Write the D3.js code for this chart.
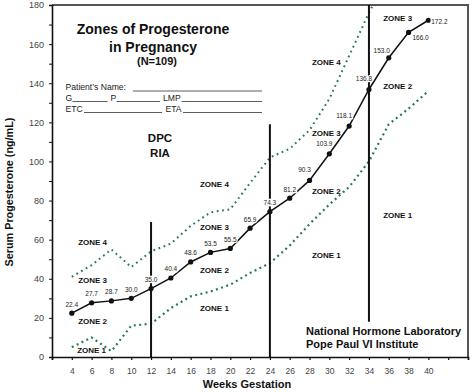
<!DOCTYPE html>
<html>
<head>
<meta charset="utf-8">
<script src="https://cdn.jsdelivr.net/npm/d3@7"></script>
<style>
  body { margin: 0; background: #fff; }
  svg { font-family: Arial, "Liberation Sans", sans-serif; display: block; }
</style>
</head>
<body>
<div id="chart"></div>
<script>
// mean progesterone by week
var weeks = [4, 6, 8, 10, 12, 14, 16, 18, 20, 22, 24, 26, 28, 30, 32, 34, 36, 38, 40];
var meanValues = [22.4, 27.7, 28.7, 30.0, 35.0, 40.4, 48.6, 53.5, 55.5, 65.9, 74.3, 81.2, 90.3, 103.9, 118.1, 136.8, 153.0, 166.0, 172.2];

// zone boundaries (green dotted)
var upperWeeks = [4, 6, 8, 10, 12, 14, 16, 18, 20, 22, 24, 26, 28, 30, 32, 34, 36];
var upperValues = [41, 47, 55, 46, 54, 58, 67, 74, 75.5, 89, 102, 106.5, 116, 132, 154, 176, 196];
var lowerWeeks = [4, 6, 8, 10, 12, 14, 16, 18, 20, 22, 24, 26, 28, 30, 32, 34, 36, 38, 40];
var lowerValues = [5, 10, 3, 16, 17, 25, 31, 33.5, 37, 43, 48, 57, 68, 78, 87, 100, 119, 127, 136];

// trimester markers
var markerWeeks = [12, 24, 34];
var markerFrom = [0, 0, 18];
var markerTo = [69, 119, 180];

var zoneNames = ["ZONE 4", "ZONE 3", "ZONE 2", "ZONE 1",
                 "ZONE 4", "ZONE 3", "ZONE 2", "ZONE 1",
                 "ZONE 4", "ZONE 3", "ZONE 2", "ZONE 1",
                 "ZONE 3", "ZONE 2", "ZONE 1"];
var zoneWeeks = [6.1, 6.1, 6.1, 6.0, 18.4, 18.4, 18.4, 18.4, 29.7, 29.7, 29.7, 29.7, 36.9, 36.9, 36.9];
var zoneValues = [58.6, 39.4, 18.4, 3.6, 88.3, 66.6, 44.5, 25.2, 150.7, 114.4, 84.9, 52.2, 173.2, 138.6, 72.6];

var yTicks = d3.range(0, 181, 10);
var xTicks = d3.range(2, 45, 2);

var W = 474, H = 392;
var margin = { top: 5, right: 6, bottom: 35, left: 52 };
var width = W - margin.left - margin.right,
    height = H - margin.top - margin.bottom;

var svg = d3.select("#chart").append("svg")
  .attr("width", W)
  .attr("height", H);

var g = svg.append("g")
  .attr("transform", "translate(" + margin.left + "," + margin.top + ")");

var x = d3.scaleLinear().domain([2, 44]).range([0, width]);
var y = d3.scaleLinear().domain([0, 180]).range([height, 0]);

g.append("clipPath").attr("id", "plotclip")
  .append("rect").attr("width", width).attr("height", height);

// frame top/right
g.append("path")
  .attr("d", "M0,0H" + width + "V" + height)
  .attr("fill", "none")
  .attr("stroke", "#555")
  .attr("stroke-width", 2);

// axes
var xAxis = d3.axisBottom(x)
  .tickValues(xTicks)
  .tickSize(3)
  .tickFormat(function(d) { return (d >= 4 && d <= 40) ? d : ""; });
var yAxis = d3.axisLeft(y)
  .tickValues(yTicks)
  .tickSize(3)
  .tickFormat(function(d) { return d % 20 === 0 ? d : ""; });

var gx = g.append("g")
  .attr("transform", "translate(0," + height + ")")
  .call(xAxis);
gx.select(".domain").attr("stroke", "#111").attr("stroke-width", 1.6);
gx.selectAll(".tick line").attr("stroke", "#111").attr("stroke-width", 1.2);
gx.selectAll(".tick text").attr("font-size", "8.5px").attr("fill", "#444").attr("dy", "1.25em");

var gy = g.append("g").call(yAxis);
gy.select(".domain").attr("stroke", "#111").attr("stroke-width", 1.6);
gy.selectAll(".tick line").attr("stroke", "#111").attr("stroke-width", 1);
gy.selectAll(".tick text").attr("font-size", "9px").attr("fill", "#444").attr("x", -8);

// axis titles
svg.append("text")
  .attr("x", 247).attr("y", 388)
  .attr("text-anchor", "middle")
  .attr("font-size", "11px").attr("font-weight", "bold").attr("fill", "#111")
  .text("Weeks Gestation");

svg.append("text")
  .attr("transform", "translate(13,192) rotate(-90)")
  .attr("text-anchor", "middle")
  .attr("font-size", "10.8px").attr("font-weight", "bold").attr("fill", "#111")
  .text("Serum Progesterone (ng/mL)");

// green zone boundaries
var plot = g.append("g").attr("clip-path", "url(#plotclip)");
var line = d3.line()
  .x(function(d) { return x(d[0]); })
  .y(function(d) { return y(d[1]); });

plot.append("path")
  .datum(d3.zip(upperWeeks, upperValues))
  .attr("d", line)
  .attr("fill", "none")
  .attr("stroke", "#2b7a55")
  .attr("stroke-width", 2)
  .attr("stroke-dasharray", "1.8,3.6");

plot.append("path")
  .datum(d3.zip(lowerWeeks, lowerValues))
  .attr("d", line)
  .attr("fill", "none")
  .attr("stroke", "#2b7a55")
  .attr("stroke-width", 2.2)
  .attr("stroke-dasharray", "2,3.4");

// vertical markers
plot.selectAll(".marker")
  .data(d3.range(markerWeeks.length))
  .enter().append("line")
  .attr("x1", function(i) { return x(markerWeeks[i]); })
  .attr("x2", function(i) { return x(markerWeeks[i]); })
  .attr("y1", function(i) { return y(markerFrom[i]); })
  .attr("y2", function(i) { return y(markerTo[i]); })
  .attr("stroke", "#111")
  .attr("stroke-width", 2);

// mean line
var meanData = d3.zip(weeks, meanValues);
g.append("path")
  .datum(meanData)
  .attr("d", line)
  .attr("fill", "none")
  .attr("stroke", "#111")
  .attr("stroke-width", 1.5);

g.selectAll(".pt")
  .data(meanData)
  .enter().append("circle")
  .attr("cx", function(d) { return x(d[0]); })
  .attr("cy", function(d) { return y(d[1]); })
  .attr("r", 2.6)
  .attr("fill", "#111");

// value labels - late weeks shifted to avoid the line
function labelOffset(w) {
  if (w <= 26) return [0, -6.5];
  if (w <= 34) return [-5, -8];
  if (w === 36) return [-7, -5];
  if (w === 38) return [12, 7.5];
  return [11, 4];
}
g.selectAll(".vlab")
  .data(meanData)
  .enter().append("text")
  .attr("x", function(d) { return x(d[0]) + labelOffset(d[0])[0]; })
  .attr("y", function(d) { return y(d[1]) + labelOffset(d[0])[1]; })
  .attr("text-anchor", "middle")
  .attr("font-size", "6.5px")
  .attr("fill", "#222")
  .attr("stroke", "#fff")
  .attr("stroke-width", 2.5)
  .attr("paint-order", "stroke")
  .text(function(d) { return d[1].toFixed(1); });

// zone labels
g.selectAll(".zone")
  .data(d3.range(zoneNames.length))
  .enter().append("text")
  .attr("x", function(i) { return x(zoneWeeks[i]); })
  .attr("y", function(i) { return y(zoneValues[i]); })
  .attr("dy", "0.35em")
  .attr("text-anchor", "middle")
  .attr("font-size", "8px")
  .attr("font-weight", "bold")
  .attr("fill", "#111")
  .text(function(i) { return zoneNames[i]; });

// title block
var title = svg.append("g").attr("fill", "#111").attr("font-weight", "bold").attr("text-anchor", "middle");
title.append("text").attr("x", 153).attr("y", 34).attr("font-size", "14px").text("Zones of Progesterone");
title.append("text").attr("x", 153).attr("y", 51.5).attr("font-size", "14px").text("in Pregnancy");
title.append("text").attr("x", 157).attr("y", 65).attr("font-size", "11px").text("(N=109)");
title.append("text").attr("x", 160).attr("y", 141.5).attr("font-size", "11.5px").text("DPC");
title.append("text").attr("x", 160).attr("y", 156.5).attr("font-size", "11.5px").text("RIA");

// patient form
var form = svg.append("g").attr("font-size", "8.6px").attr("fill", "#222");
form.append("text").attr("x", 65.5).attr("y", 90).text("Patient\u2019s Name:");
form.append("text").attr("x", 65.5).attr("y", 101).text("G");
form.append("text").attr("x", 110.5).attr("y", 101).text("P");
form.append("text").attr("x", 163).attr("y", 101).text("LMP");
form.append("text").attr("x", 65.5).attr("y", 111.5).text("ETC");
form.append("text").attr("x", 165.5).attr("y", 111.5).text("ETA");
var blanks = [[133, 262, 91], [72.5, 107.5, 101.5], [116.5, 160, 101.5], [181.5, 262, 101.5], [84, 162, 112.5], [183, 262, 112.5]];
form.selectAll("line")
  .data(blanks)
  .enter().append("line")
  .attr("x1", function(d) { return d[0]; })
  .attr("x2", function(d) { return d[1]; })
  .attr("y1", function(d) { return d[2]; })
  .attr("y2", function(d) { return d[2]; })
  .attr("stroke", "#333")
  .attr("stroke-width", 0.8);

// credits
var credit = svg.append("g").attr("font-size", "11px").attr("font-weight", "bold").attr("fill", "#111");
credit.append("text").attr("x", 306).attr("y", 335).text("National Hormone Laboratory");
credit.append("text").attr("x", 306).attr("y", 347.5).text("Pope Paul VI Institute");
</script>
</body>
</html>
